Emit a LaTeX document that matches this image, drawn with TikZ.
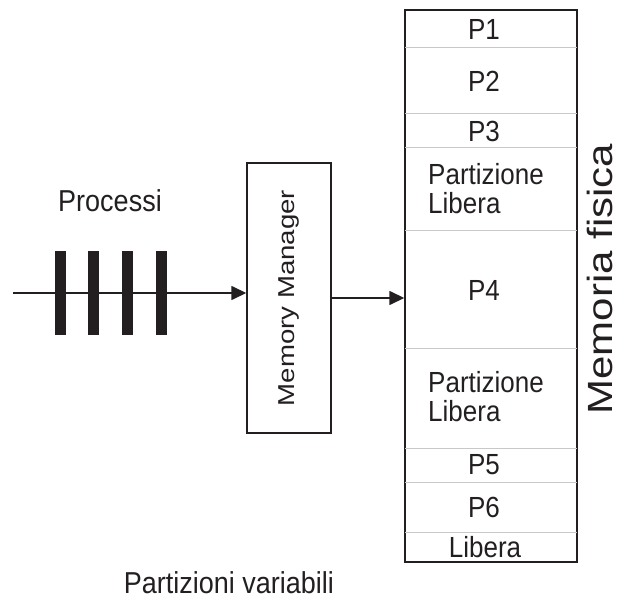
\documentclass[tikz,border=0pt]{standalone}
\usepackage{fontspec}
\setmainfont{Liberation Sans}
\usepackage{xcolor}
\usepackage{tikz}
\usetikzlibrary{arrows.meta}
\definecolor{ink}{HTML}{231F20}
\definecolor{sep}{HTML}{C8C8C8}
\tikzset{
    box/.style = {draw=ink, line width=1.4pt, inner sep=0pt},
    txt/.style = {text=ink, inner sep=0pt, yscale=1.12},
    plabel/.style = {txt, font=\fontsize{26}{26}\selectfont},
    flabel/.style = {plabel, align=left, anchor=west},
    vtext/.style = {text=ink, inner sep=0pt, rotate=90, xscale=1.2},
    part_line/.style = {draw=sep, line width=1pt, shorten <=0.7pt, shorten >=0.7pt},
    bar/.style = {fill=ink}
}
\begin{document}
\begin{tikzpicture}[x=1pt, y=-1pt, >={Triangle[length=15pt,width=14pt]}]
    \useasboundingbox (0,0) rectangle (623,601);
    % memory manager and physical memory
    \node [box, minimum width=84pt, minimum height=270pt] (mm) at (289,298) {};
    \node [vtext, font=\fontsize{23}{26}\selectfont] (mmtext) at (mm.center) {Memory Manager};
    \node [box, minimum width=172pt, minimum height=552pt] (mem) at (491,286) {};
    \foreach \y in {48,114,148,231,348,448,482,532}
        \draw [part_line] (mem.west |- 0,\y) -- (mem.east |- 0,\y);
    % partitions
    \node [plabel] (p1) at (484,29) {P1};
    \node [plabel] (p2) at (484,81) {P2};
    \node [plabel] (p3) at (484,131) {P3};
    \node [flabel] (free1) at (428,189) {Partizione\\Libera};
    \node [plabel] (p4) at (484,290) {P4};
    \node [flabel] (free2) at (428,397) {Partizione\\Libera};
    \node [plabel] (p5) at (484,465) {P5};
    \node [plabel] (p6) at (484,507) {P6};
    \node [plabel] (free3) at (485,547) {Libera};
    % labels
    \node [vtext, font=\fontsize{35}{40}\selectfont, anchor=base] (phys) at (612,279) {Memoria fisica};
    \node [txt, font=\fontsize{27}{30}\selectfont, anchor=base] (procs) at (110,212) {Processi};
    \node [txt, font=\fontsize{27}{30}\selectfont, anchor=base] (caption) at (229,593) {Partizioni variabili};
    % queue of processes
    \coordinate (start) at (13,293);
    \draw [->, ink, line width=1.5pt] (start) -- (start -| mm.west);
    \foreach \x in {60.5,93.5,127,161}
        \fill [bar] (\x-5.5,251) rectangle (\x+5.5,335);
    \draw [->, ink, line width=1.5pt] (mm.east) -- (mm.east -| mem.west);
\end{tikzpicture}
\end{document}
